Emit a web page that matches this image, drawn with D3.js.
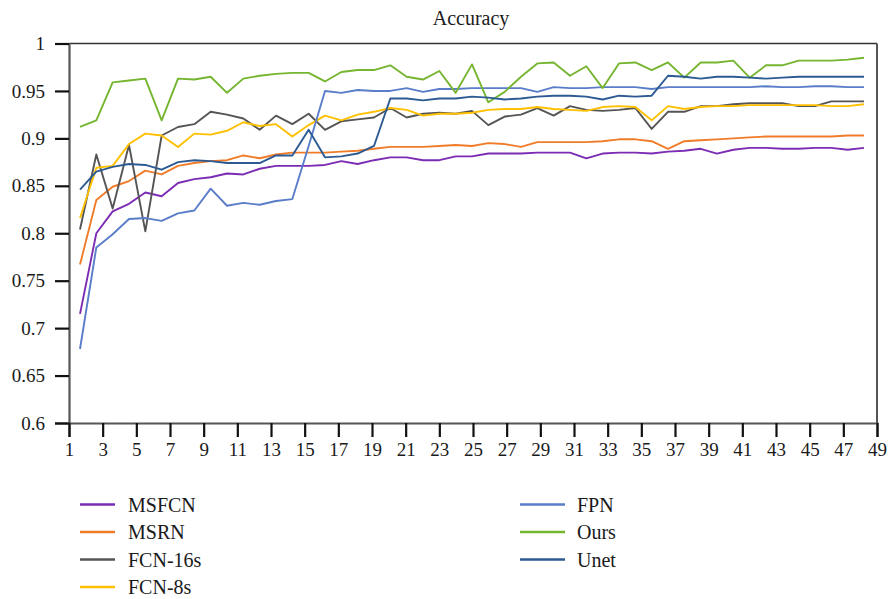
<!DOCTYPE html>
<html>
<head>
<meta charset="utf-8">
<script src="https://cdn.jsdelivr.net/npm/d3@7"></script>
<style>
  html, body { margin: 0; padding: 0; background: #fff; }
  svg { display: block; }
  text { font-family: "Liberation Serif", "DejaVu Serif", serif; fill: #1a1a1a; }
</style>
</head>
<body>
<svg id="chart" width="888" height="599"></svg>
<script>
const epochs = d3.range(1, 50);
const xTickLabels = d3.range(1, 50, 2);
const yTickLabels = [0.6, 0.65, 0.7, 0.75, 0.8, 0.85, 0.9, 0.95, 1];

const seriesNames = ["MSFCN", "MSRN", "FCN-16s", "FCN-8s", "FPN", "Ours", "Unet"];
const seriesColors = ["#7B2CB3", "#F07C2A", "#555555", "#FFC000", "#5A7DC9", "#76B52F", "#2C5A92"];

const MSFCN = [0.715,0.800,0.823,0.831,0.843,0.839,0.853,0.857,0.859,0.863,0.862,0.868,0.871,0.871,0.871,0.872,0.876,0.873,0.877,0.880,0.880,0.877,0.877,0.881,0.881,0.884,0.884,0.884,0.885,0.885,0.885,0.879,0.884,0.885,0.885,0.884,0.886,0.887,0.889,0.884,0.888,0.890,0.890,0.889,0.889,0.890,0.890,0.888,0.890];
const MSRN = [0.767,0.835,0.849,0.855,0.866,0.862,0.871,0.874,0.876,0.877,0.882,0.879,0.883,0.885,0.885,0.885,0.886,0.887,0.889,0.891,0.891,0.891,0.892,0.893,0.892,0.895,0.894,0.891,0.896,0.896,0.896,0.896,0.897,0.899,0.899,0.897,0.889,0.897,0.898,0.899,0.900,0.901,0.902,0.902,0.902,0.902,0.902,0.903,0.903];
const FCN16s = [0.804,0.883,0.826,0.893,0.802,0.903,0.912,0.915,0.928,0.925,0.921,0.909,0.924,0.915,0.926,0.909,0.918,0.920,0.922,0.932,0.922,0.926,0.927,0.926,0.929,0.914,0.923,0.925,0.932,0.924,0.934,0.930,0.929,0.930,0.932,0.910,0.928,0.928,0.934,0.934,0.936,0.937,0.937,0.937,0.934,0.934,0.939,0.939,0.939];
const FCN8s = [0.816,0.869,0.871,0.894,0.905,0.903,0.891,0.905,0.904,0.908,0.917,0.913,0.915,0.902,0.914,0.924,0.919,0.925,0.928,0.932,0.930,0.924,0.926,0.926,0.927,0.930,0.931,0.931,0.933,0.931,0.930,0.929,0.933,0.934,0.933,0.919,0.934,0.931,0.933,0.934,0.934,0.935,0.935,0.935,0.935,0.935,0.934,0.934,0.936];
const FPN = [0.678,0.785,0.799,0.815,0.816,0.813,0.821,0.824,0.847,0.829,0.832,0.830,0.834,0.836,0.892,0.950,0.948,0.951,0.950,0.950,0.953,0.949,0.952,0.952,0.953,0.953,0.953,0.953,0.949,0.954,0.953,0.953,0.954,0.954,0.954,0.952,0.954,0.954,0.954,0.954,0.954,0.954,0.955,0.954,0.954,0.955,0.955,0.954,0.954];
const Ours = [0.912,0.919,0.959,0.961,0.963,0.919,0.963,0.962,0.965,0.948,0.963,0.966,0.968,0.969,0.969,0.960,0.970,0.972,0.972,0.977,0.965,0.962,0.971,0.948,0.978,0.938,0.949,0.965,0.979,0.980,0.966,0.976,0.953,0.979,0.980,0.972,0.980,0.964,0.980,0.980,0.982,0.964,0.977,0.977,0.982,0.982,0.982,0.983,0.985];
const Unet = [0.846,0.865,0.870,0.873,0.872,0.867,0.875,0.877,0.876,0.874,0.874,0.874,0.882,0.882,0.909,0.880,0.881,0.884,0.892,0.942,0.942,0.940,0.942,0.942,0.944,0.943,0.941,0.942,0.944,0.945,0.945,0.944,0.941,0.945,0.944,0.945,0.966,0.965,0.963,0.965,0.965,0.964,0.963,0.964,0.965,0.965,0.965,0.965,0.965];

const seriesValues = [MSFCN, MSRN, FCN16s, FCN8s, FPN, Ours, Unet];

const svg = d3.select("#chart");
const plotLeft = 69, plotRight = 877, plotTop = 43.5, plotBottom = 423;

const y = d3.scaleLinear().domain([0.6, 1]).range([plotBottom, plotTop]);
const xAxisScale = d3.scaleLinear().domain([1, 49]).range([plotLeft, plotRight]);
const xData = d3.scalePoint().domain(epochs).range([80, 864]);

// title
svg.append("text").attr("x", 471).attr("y", 25).attr("text-anchor", "middle")
  .style("font-size", "20px").text("Accuracy");

// frame top & right
svg.append("line").attr("x1", plotLeft).attr("x2", plotRight).attr("y1", plotTop).attr("y2", plotTop)
  .attr("stroke", "#333").attr("stroke-width", 1.6);
svg.append("line").attr("x1", plotRight).attr("x2", plotRight).attr("y1", plotTop).attr("y2", plotBottom)
  .attr("stroke", "#555").attr("stroke-width", 2);

// y axis
const yAxis = svg.append("g").attr("transform", `translate(${plotLeft},0)`)
  .call(d3.axisLeft(y).tickValues(yTickLabels).tickSize(14).tickPadding(10)
    .tickFormat(d => String(+d.toFixed(2))));
yAxis.select(".domain").attr("stroke", "#555").attr("stroke-width", 2.2);
yAxis.selectAll(".tick line").attr("stroke", "#111").attr("stroke-width", 2.2);
yAxis.selectAll(".tick text").style("font-size", "19px").attr("fill", "#1a1a1a")
  .style("font-family", "'Liberation Serif', serif");

// x axis
const xAxis = svg.append("g").attr("transform", `translate(0,${plotBottom})`)
  .call(d3.axisBottom(xAxisScale).tickValues(xTickLabels).tickSize(14).tickPadding(6)
    .tickFormat(d3.format("d")));
xAxis.select(".domain").attr("stroke", "#555").attr("stroke-width", 2.2);
xAxis.selectAll(".tick line").attr("stroke", "#111").attr("stroke-width", 2.2);
xAxis.selectAll(".tick text").style("font-size", "19px").attr("fill", "#1a1a1a")
  .style("font-family", "'Liberation Serif', serif");

// lines
const line = d3.line().x((d, i) => xData(epochs[i])).y(d => y(d));
seriesValues.forEach((vals, k) => {
  svg.append("path").datum(vals)
    .attr("fill", "none")
    .attr("stroke", seriesColors[k])
    .attr("stroke-width", 1.9)
    .attr("stroke-linejoin", "round")
    .attr("d", line);
});

// legend
const legendPos = [
  {x1: 80, x2: 115, tx: 128, y: 504.5},
  {x1: 80, x2: 115, tx: 128, y: 532},
  {x1: 80, x2: 115, tx: 128, y: 559.5},
  {x1: 80, x2: 115, tx: 128, y: 587},
  {x1: 520, x2: 565, tx: 577, y: 504.5},
  {x1: 520, x2: 565, tx: 577, y: 532},
  {x1: 520, x2: 565, tx: 577, y: 559.5}
];
seriesNames.forEach((name, k) => {
  const p = legendPos[k];
  svg.append("line").attr("x1", p.x1).attr("x2", p.x2).attr("y1", p.y).attr("y2", p.y)
    .attr("stroke", seriesColors[k]).attr("stroke-width", 2.6);
  svg.append("text").attr("x", p.tx).attr("y", p.y).attr("dy", "0.35em")
    .style("font-size", "20px").text(name);
});
</script>
</body>
</html>
